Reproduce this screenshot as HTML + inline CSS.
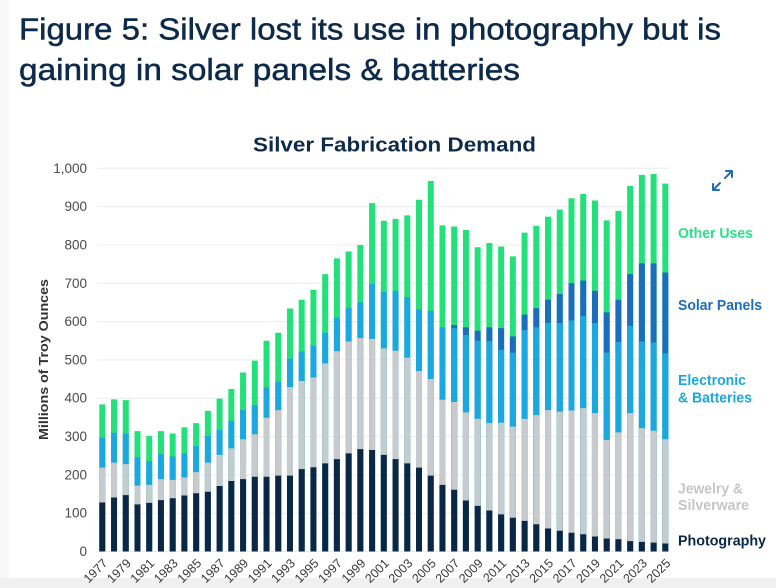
<!DOCTYPE html>
<html>
<head>
<meta charset="utf-8">
<style>
html,body{margin:0;padding:0;background:#fff;}
body{width:776px;height:588px;overflow:hidden;}
svg{display:block;}
text{font-family:"Liberation Sans",sans-serif;}
</style>
</head>
<body>
<svg width="776" height="588" viewBox="0 0 776 588" xmlns="http://www.w3.org/2000/svg">
<rect x="0" y="0" width="776" height="588" fill="#ffffff"/>
<rect x="0" y="0" width="9" height="588" fill="#f8f8f8"/>
<rect x="0" y="578" width="776" height="10" fill="#f0f0f0"/>

<!-- Titles -->
<text x="19" y="39.5" font-size="31" fill="#0d2a4a" stroke="#0d2a4a" stroke-width="0.5" textLength="702" lengthAdjust="spacingAndGlyphs">Figure 5: Silver lost its use in photography but is</text>
<text x="19" y="80" font-size="31" fill="#0d2a4a" stroke="#0d2a4a" stroke-width="0.5" textLength="501" lengthAdjust="spacingAndGlyphs">gaining in solar panels &amp; batteries</text>
<text x="253" y="151.7" font-size="20" font-weight="bold" fill="#0d2a4a" textLength="283" lengthAdjust="spacingAndGlyphs">Silver Fabrication Demand</text>

<!-- Gridlines -->
<g stroke="#ececec" stroke-width="1">
<line x1="97" x2="669" y1="551.5" y2="551.5"/>
<line x1="97" x2="669" y1="513.2" y2="513.2"/>
<line x1="97" x2="669" y1="474.9" y2="474.9"/>
<line x1="97" x2="669" y1="436.5" y2="436.5"/>
<line x1="97" x2="669" y1="398.2" y2="398.2"/>
<line x1="97" x2="669" y1="359.9" y2="359.9"/>
<line x1="97" x2="669" y1="321.6" y2="321.6"/>
<line x1="97" x2="669" y1="283.3" y2="283.3"/>
<line x1="97" x2="669" y1="245.0" y2="245.0"/>
<line x1="97" x2="669" y1="206.6" y2="206.6"/>
<line x1="97" x2="669" y1="168.3" y2="168.3"/>
</g>

<!-- Y tick labels -->
<g font-size="13.5" fill="#4a4a4a" text-anchor="end">
<text x="87" y="556">0</text>
<text x="87" y="517.7">100</text>
<text x="87" y="479.4">200</text>
<text x="87" y="441">300</text>
<text x="87" y="402.7">400</text>
<text x="87" y="364.4">500</text>
<text x="87" y="326.1">600</text>
<text x="87" y="287.8">700</text>
<text x="87" y="249.5">800</text>
<text x="87" y="211.1">900</text>
<text x="87" y="172.8">1,000</text>
</g>

<!-- Y axis title -->
<text x="48" y="359.5" font-size="13" font-weight="bold" fill="#333" text-anchor="middle" transform="rotate(-90 48 359.5)" textLength="161" lengthAdjust="spacingAndGlyphs">Millions of Troy Ounces</text>

<!-- Bars -->
<g transform="translate(0,551.5) scale(1,-0.3832)" fill="none" stroke-width="6">
<path stroke="#22e07a" d="M102.3 0V384M114.03 0V397M125.76 0V395M137.49 0V314M149.22 0V301M160.95 0V314M172.68 0V308M184.41 0V324M196.14 0V335M207.87 0V367M219.6 0V399M231.33 0V424M243.06 0V467M254.79 0V498M266.52 0V550M278.25 0V571M289.98 0V634M301.71 0V657M313.44 0V683M325.17 0V724M336.9 0V765M348.63 0V783M360.36 0V800M372.09 0V909M383.82 0V863M395.55 0V868M407.28 0V877M419.01 0V918M430.74 0V967M442.47 0V851M454.2 0V848M465.93 0V839M477.66 0V794M489.39 0V805M501.12 0V796M512.85 0V770M524.58 0V832M536.31 0V850M548.04 0V874M559.77 0V892M571.5 0V922M583.23 0V933M594.96 0V916M606.69 0V864M618.42 0V889M630.15 0V954M641.88 0V983M653.61 0V985M665.34 0V960"/>
<path stroke="#1a6ebd" d="M454.2 0V591M465.93 0V585M477.66 0V576M489.39 0V585M501.12 0V583M512.85 0V561M524.58 0V618M536.31 0V635M548.04 0V657M559.77 0V672M571.5 0V700M583.23 0V707M594.96 0V680M606.69 0V624M618.42 0V657M630.15 0V724M641.88 0V752M653.61 0V752M665.34 0V728"/>
<path stroke="#1ba8e0" d="M102.3 0V297M114.03 0V310M125.76 0V308M137.49 0V246M149.22 0V236M160.95 0V254M172.68 0V248M184.41 0V256M196.14 0V275M207.87 0V301M219.6 0V317M231.33 0V341M243.06 0V369M254.79 0V382M266.52 0V428M278.25 0V443M289.98 0V503M301.71 0V522M313.44 0V537M325.17 0V571M336.9 0V610M348.63 0V635M360.36 0V650M372.09 0V698M383.82 0V677M395.55 0V680M407.28 0V664M419.01 0V632M430.74 0V628M442.47 0V585M454.2 0V583M465.93 0V565M477.66 0V550M489.39 0V549M501.12 0V526M512.85 0V519M524.58 0V578M536.31 0V585M548.04 0V597M559.77 0V596M571.5 0V603M583.23 0V615M594.96 0V596M606.69 0V519M618.42 0V547M630.15 0V589M641.88 0V548M653.61 0V545M665.34 0V517"/>
<path stroke="#c8cbcd" d="M102.3 0V219M114.03 0V232M125.76 0V228M137.49 0V172M149.22 0V174M160.95 0V189M172.68 0V187M184.41 0V193M196.14 0V207M207.87 0V232M219.6 0V252M231.33 0V269M243.06 0V293M254.79 0V306M266.52 0V349M278.25 0V369M289.98 0V429M301.71 0V445M313.44 0V454M325.17 0V491M336.9 0V523M348.63 0V548M360.36 0V557M372.09 0V555M383.82 0V530M395.55 0V524M407.28 0V506M419.01 0V471M430.74 0V450M442.47 0V396M454.2 0V390M465.93 0V363M477.66 0V346M489.39 0V335M501.12 0V336M512.85 0V326M524.58 0V346M536.31 0V356M548.04 0V369M559.77 0V365M571.5 0V368M583.23 0V374M594.96 0V361M606.69 0V291M618.42 0V311M630.15 0V361M641.88 0V322M653.61 0V315M665.34 0V293"/>
<path stroke="#0b2746" d="M102.3 0V128M114.03 0V141M125.76 0V147M137.49 0V123M149.22 0V127M160.95 0V134M172.68 0V139M184.41 0V146M196.14 0V152M207.87 0V156M219.6 0V171M231.33 0V184M243.06 0V189M254.79 0V195M266.52 0V195M278.25 0V198M289.98 0V198M301.71 0V215M313.44 0V220M325.17 0V230M336.9 0V241M348.63 0V256M360.36 0V267M372.09 0V265M383.82 0V252M395.55 0V241M407.28 0V230M419.01 0V219M430.74 0V198M442.47 0V174M454.2 0V161M465.93 0V133M477.66 0V119M489.39 0V107M501.12 0V97M512.85 0V88M524.58 0V80M536.31 0V71M548.04 0V60M559.77 0V54M571.5 0V49M583.23 0V45M594.96 0V39M606.69 0V34M618.42 0V32M630.15 0V27M641.88 0V25M653.61 0V23M665.34 0V21"/>
</g>

<!-- X labels -->
<g font-size="12.5" fill="#3a3a3a" text-anchor="end">
<text x="108.3" y="564" transform="rotate(-45 108.3 564)">1977</text>
<text x="131.76" y="564" transform="rotate(-45 131.76 564)">1979</text>
<text x="155.22" y="564" transform="rotate(-45 155.22 564)">1981</text>
<text x="178.68" y="564" transform="rotate(-45 178.68 564)">1983</text>
<text x="202.14" y="564" transform="rotate(-45 202.14 564)">1985</text>
<text x="225.6" y="564" transform="rotate(-45 225.6 564)">1987</text>
<text x="249.06" y="564" transform="rotate(-45 249.06 564)">1989</text>
<text x="272.52" y="564" transform="rotate(-45 272.52 564)">1991</text>
<text x="295.98" y="564" transform="rotate(-45 295.98 564)">1993</text>
<text x="319.44" y="564" transform="rotate(-45 319.44 564)">1995</text>
<text x="342.9" y="564" transform="rotate(-45 342.9 564)">1997</text>
<text x="366.36" y="564" transform="rotate(-45 366.36 564)">1999</text>
<text x="389.82" y="564" transform="rotate(-45 389.82 564)">2001</text>
<text x="413.28" y="564" transform="rotate(-45 413.28 564)">2003</text>
<text x="436.74" y="564" transform="rotate(-45 436.74 564)">2005</text>
<text x="460.2" y="564" transform="rotate(-45 460.2 564)">2007</text>
<text x="483.66" y="564" transform="rotate(-45 483.66 564)">2009</text>
<text x="507.12" y="564" transform="rotate(-45 507.12 564)">2011</text>
<text x="530.58" y="564" transform="rotate(-45 530.58 564)">2013</text>
<text x="554.04" y="564" transform="rotate(-45 554.04 564)">2015</text>
<text x="577.5" y="564" transform="rotate(-45 577.5 564)">2017</text>
<text x="600.96" y="564" transform="rotate(-45 600.96 564)">2019</text>
<text x="624.42" y="564" transform="rotate(-45 624.42 564)">2021</text>
<text x="647.88" y="564" transform="rotate(-45 647.88 564)">2023</text>
<text x="671.34" y="564" transform="rotate(-45 671.34 564)">2025</text>
</g>

<!-- Legend labels -->
<g font-size="14.5" font-weight="bold">
<text x="678" y="238" fill="#2ae08a" textLength="75" lengthAdjust="spacingAndGlyphs">Other Uses</text>
<text x="678" y="310" fill="#1a6ebd" textLength="84" lengthAdjust="spacingAndGlyphs">Solar Panels</text>
<text x="678" y="385" fill="#1ba8e0" textLength="68" lengthAdjust="spacingAndGlyphs">Electronic</text>
<text x="678" y="402.3" fill="#1ba8e0" textLength="74" lengthAdjust="spacingAndGlyphs">&amp; Batteries</text>
<text x="678" y="493.3" fill="#c4c6c8" textLength="65" lengthAdjust="spacingAndGlyphs">Jewelry &amp;</text>
<text x="678" y="510" fill="#c4c6c8" textLength="71" lengthAdjust="spacingAndGlyphs">Silverware</text>
<text x="678" y="545.7" fill="#0b2746" textLength="88" lengthAdjust="spacingAndGlyphs">Photography</text>
</g>

<!-- Expand icon -->
<g stroke="#1a6ebd" stroke-width="2" fill="none" stroke-linecap="round" stroke-linejoin="round">
<path d="M713 190L720 183M713 184V190H719"/>
<path d="M725 178L732 171M726 171H732V177"/>
</g>
</svg>
</body>
</html>
